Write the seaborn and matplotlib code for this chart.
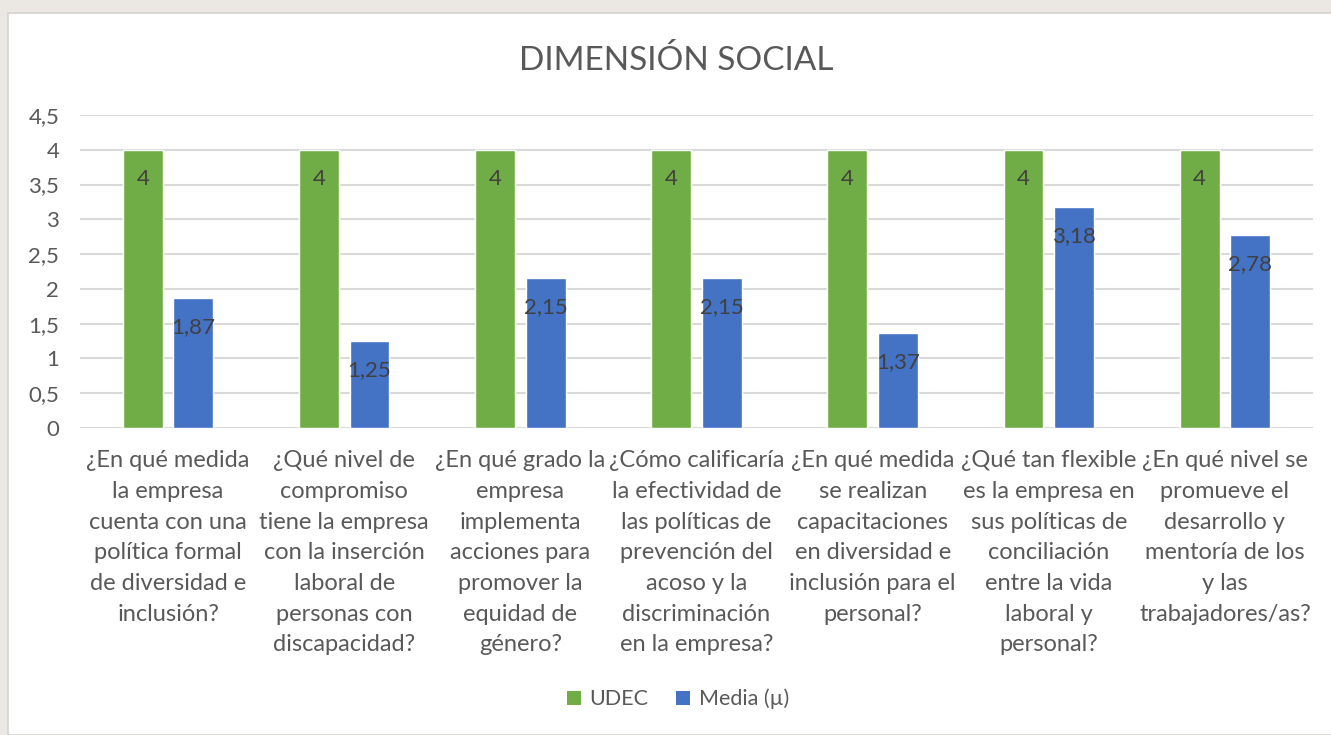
import numpy as np
import pandas as pd
import seaborn as sns
import matplotlib.pyplot as plt
from matplotlib.patches import Rectangle, Patch

preguntas = [
    "¿En qué medida\nla empresa\ncuenta con una\npolítica formal\nde diversidad e\ninclusión?",
    "¿Qué nivel de\ncompromiso\ntiene la empresa\ncon la inserción\nlaboral de\npersonas con\ndiscapacidad?",
    "¿En qué grado la\nempresa\nimplementa\nacciones para\npromover la\nequidad de\ngénero?",
    "¿Cómo calificaría\nla efectividad de\nlas políticas de\nprevención del\nacoso y la\ndiscriminación\nen la empresa?",
    "¿En qué medida\nse realizan\ncapacitaciones\nen diversidad e\ninclusión para el\npersonal?",
    "¿Qué tan flexible\nes la empresa en\nsus políticas de\nconciliación\nentre la vida\nlaboral y\npersonal?",
    "¿En qué nivel se\npromueve el\ndesarrollo y\nmentoría de los\ny las\ntrabajadores/as?",
]
udec = [4, 4, 4, 4, 4, 4, 4]
media = [1.87, 1.25, 2.15, 2.15, 1.37, 3.18, 2.78]
series = ["UDEC", "Media (µ)"]
colores = ["#70AD47", "#4472C4"]

df = pd.DataFrame({
    "pregunta": preguntas * 2,
    "valor": udec + media,
    "serie": [series[0]] * len(udec) + [series[1]] * len(media),
})

sns.set_theme(style="white")
plt.rcParams['font.family'] = ['Lato', 'DejaVu Sans']
txt = "#595959"

fig = plt.figure(figsize=(13.31, 7.35), dpi=100)
fig.patch.set_facecolor("#EBE8E3")
fondo = Rectangle((8 / 1331, 0), 1.0, 1 - 13 / 735, transform=fig.transFigure,
                  facecolor="white", edgecolor="#D6D3CF", linewidth=1.2, zorder=-10)
fig.add_artist(fondo)

ax = fig.add_axes([80 / 1331, 1 - 428 / 735, (1313 - 80) / 1331, (428 - 115) / 735])
ax.set_facecolor("none")
ax.set_zorder(1)

sns.barplot(data=df, x="pregunta", y="valor", hue="serie", palette=colores,
            width=0.574, gap=0.21, ax=ax, saturation=1, legend=False, zorder=3)

ax.set_ylim(0, 4.5)
ax.set_yticks(np.arange(0, 4.51, 0.5))
ax.set_yticklabels([("%g" % v).replace(".", ",") for v in np.arange(0, 4.51, 0.5)])
ax.yaxis.grid(True, color="#D9D9D9", linewidth=1.5, zorder=0)
ax.set_axisbelow(True)
for s in ax.spines.values():
    s.set_visible(False)
ax.set_xlabel("")
ax.set_ylabel("")
ax.tick_params(axis="y", length=0, pad=15, labelsize=16, labelcolor=txt)
ax.tick_params(axis="x", length=0, pad=16, labelsize=17, labelcolor=txt)
for lab in ax.get_xticklabels():
    lab.set_linespacing(1.57)
    lab.set_va("top")

for cont in ax.containers:
    for bar in cont:
        h = bar.get_height()
        s = ("%g" % h).replace(".", ",")
        ax.annotate(s, (bar.get_x() + bar.get_width() / 2, h), xytext=(0, -29),
                    textcoords="offset pixels", ha="center", va="center",
                    fontsize=16, color="#404040", zorder=5)

fig.text(676 / 1331, 1 - 60 / 735, "DIMENSIÓN SOCIAL", ha="center", va="center",
         fontsize=24, color=txt)

handles = [Patch(facecolor=c, edgecolor="none") for c in colores]
fig.legend(handles, series, loc="center", bbox_to_anchor=(678 / 1331, 1 - 699 / 735),
           ncol=2, frameon=False, fontsize=15.5, labelcolor=txt,
           handlelength=0.65, handleheight=0.65, handletextpad=0.4, columnspacing=1.3)

fig.savefig("out.png", dpi=100, facecolor=fig.get_facecolor())
